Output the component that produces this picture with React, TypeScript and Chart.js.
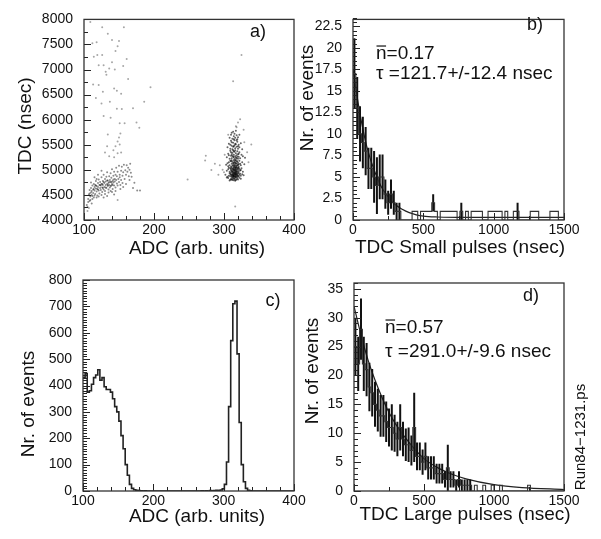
import React, { useEffect, useRef } from "react";
import { Chart, registerables } from "chart.js";

Chart.register(...registerables);
Chart.defaults.font.family = "'Liberation Sans', Arial, Helvetica, sans-serif";

const W = 601;
const H = 539;

// ---------- Panel a) scatter TDC vs ADC ----------
const scatterSparse: [number, number][] = [
  [109,7950],[126,7842],[157,7842],[134,7716],[140,7589],[150,7570],[118,7545],[112,7526],[148,7463],[145,7368],
  [119,7292],[126,7292],[114,7254],[161,7210],[140,7147],[121,7084],[128,7084],[156,7071],[136,7020],[144,7001],
  [131,6957],[132,6894],[163,6812],[113,6704],[121,6692],[143,6622],[195,6647],[147,6578],[127,6559],[153,6515],
  [117,6433],[125,6325],[137,6357],[186,6357],[147,6218],[154,6211],[170,6230],[128,6072],[138,6041],[158,5927],
  [175,5946],[151,5927],[179,5838],[152,5725],[134,5706],[150,5643],[148,5567],[133,5472],[145,5472],[151,5504],
  [142,5390],[130,5346],[148,5333],[136,5270],[143,5251],[153,5346],[248,4808],[148,4398],[105,4180],[107,4240],
  [325,7292],[313,6768],[323,6009],[320,5946],[318,5851],[339,5504],[274,5282],[273,5188],[282,4998],[287,5124],
  [294,5093],[292,4903],[316,4271],[298,5000],[300,4950],[333,5350],[335,5150],[301,5300],[329,5550],[306,5700],
  [328,5800],[317,5870]
];

const scatterLeftCluster: [number, number][] = [
  [106,4420],[107,4510],[108,4380],[108,4600],[109,4470],[110,4550],[110,4640],[111,4330],[111,4580],[112,4690],
  [112,4480],[113,4610],[113,4540],[114,4720],[114,4450],[115,4660],[115,4590],[116,4520],[116,4700],[117,4630],
  [117,4780],[118,4570],[118,4680],[119,4490],[119,4620],[120,4740],[120,4660],[121,4590],[121,4810],[122,4700],
  [122,4530],[123,4640],[123,4760],[124,4600],[124,4690],[125,4850],[125,4720],[126,4560],[126,4650],[127,4780],
  [127,4700],[128,4610],[128,4900],[129,4740],[129,4660],[130,4820],[130,4580],[131,4700],[131,4770],[132,4640],
  [132,4860],[133,4720],[133,4950],[134,4680],[134,4790],[135,4610],[135,4740],[136,4870],[136,4700],[137,4800],
  [137,4650],[138,4930],[138,4760],[139,4690],[139,4840],[140,4720],[140,5010],[141,4780],[141,4620],[142,4880],
  [142,4750],[143,4960],[143,4690],[144,4820],[144,4770],[145,4900],[145,4650],[146,5040],[146,4800],[147,4730],
  [147,4870],[148,4960],[148,4690],[149,4820],[150,5080],[150,4760],[151,4900],[151,4850],[152,4700],[153,4980],
  [153,4800],[154,5060],[155,4880],[155,4740],[156,4950],[157,5100],[158,4820],[159,4990],[160,4900],[161,5090],
  [162,4960],[163,5040],[164,4870],[165,5000],[166,5120],[167,4940],
  [104,4300],[105,4260],[106,4360],[109,4400],[112,4420],[115,4490],[118,4450],[121,4470],[125,4500],[130,4520],
  [135,4550],[140,4560],[145,4580],[152,4620],[156,4660],[160,4720],[165,4800],[170,4640],[172,4745],[176,4587],
  [180,4587],[168,4860],[110,4750],[115,4850],[120,4900],[125,4980],[118,4820],[128,4450],[138,4580],[143,4510],
  [133,4480],[126,4720],[128,4760],[131,4650],[133,4790],[134,4700],[136,4760],[138,4680],[139,4760],[141,4700],
  [142,4810],[127,4640],[123,4700],[120,4610],[117,4690],[114,4620],[111,4500],[108,4530]
];

const scatterRightCluster: [number, number][] = [
  [308,4790],[312,4800],[316,4785],[320,4810],[310,4820],[314,4830],[318,4815],[322,4840],[306,4835],[313,4845],
  [317,4800],[311,4810],[315,4820],[319,4835],[309,4805],[324,4825],[304,4845],[314,4795],[316,4840],[312,4830],
  [305,4860],[307,4880],[309,4870],[310,4900],[311,4855],[312,4920],[313,4875],[313,4940],[314,4890],[314,4865],
  [315,4910],[315,4935],[316,4870],[316,4900],[317,4925],[317,4885],[318,4860],[318,4945],[319,4905],[319,4880],
  [320,4930],[321,4870],[322,4900],[323,4920],[324,4880],[326,4910],[302,4900],[308,4930],[310,4945],[311,4890],
  [312,4865],[313,4905],[314,4925],[315,4860],[316,4945],[317,4855],[318,4900],[320,4875],[321,4940],[309,4915],
  [312,4895],[314,4880],[316,4915],[318,4920],[328,4890],
  [304,4980],[306,5010],[308,4960],[309,5030],[310,4990],[311,5045],[312,4970],[312,5015],[313,4995],[314,5040],
  [314,4960],[315,5005],[315,4985],[316,5030],[316,4955],[317,5010],[317,4975],[318,5045],[318,4995],[319,4965],
  [319,5025],[320,5000],[321,4970],[321,5040],[322,5015],[323,4985],[325,5030],[327,4960],[307,5040],[311,4975],
  [313,5025],[315,5045],[316,4990],[318,4960],[320,5035],[310,5015],[314,5000],[317,5040],[312,4955],[324,4995],
  [303,5100],[306,5070],[307,5150],[308,5090],[309,5180],[310,5060],[311,5120],[312,5160],[312,5080],[313,5130],
  [314,5190],[314,5070],[315,5110],[315,5160],[316,5090],[316,5140],[317,5060],[317,5195],[318,5120],[318,5080],
  [319,5170],[320,5100],[320,5140],[321,5065],[322,5180],[323,5120],[324,5090],[326,5150],[329,5110],[305,5130],
  [310,5170],[313,5095],[315,5075],[317,5130],[319,5085],[311,5190],[314,5140],[318,5165],[321,5110],[316,5185],
  [304,5250],[306,5320],[308,5220],[309,5380],[310,5280],[311,5230],[312,5340],[313,5260],[313,5390],[314,5300],
  [315,5215],[315,5360],[316,5270],[317,5330],[317,5240],[318,5290],[319,5370],[320,5220],[320,5310],[321,5260],
  [322,5350],[323,5230],[325,5300],[327,5270],[330,5240],[307,5290],[311,5310],[314,5250],[316,5390],[318,5230],
  [312,5280],[319,5260],[314,5370],[321,5320],[310,5350],
  [305,5450],[307,5520],[309,5420],[310,5580],[311,5480],[312,5410],[313,5540],[314,5470],[315,5590],[316,5430],
  [317,5510],[318,5460],[319,5560],[320,5420],[321,5500],[322,5450],[324,5530],[326,5410],[313,5460],[316,5520],
  [311,5550],[318,5590],[315,5490],[309,5500],[320,5470],
  [308,5640],[310,5700],[312,5620],[313,5760],[314,5670],[315,5720],[316,5640],[317,5780],[318,5690],[320,5650],
  [311,5740],[319,5610],[322,5700],[314,5610]
];

const aXTicks = [100, 200, 300, 400];
const aYTicks = [4000, 4500, 5000, 5500, 6000, 6500, 7000, 7500, 8000];

// ---------- Panel c) ADC histogram ----------
const adcBinStart = 100;
const adcBinWidth = 3;
const adcCounts = [
  430,445,375,380,405,430,440,460,420,430,395,385,385,375,350,320,300,265,210,160,100,60,25,10,5,3,2,1,
  0,1,0,0,0,0,0,0,0,0,0,0,0,0,0,0,0,0,0,0,0,0,0,0,0,0,0,0,
  1,0,1,0,2,1,2,3,2,4,8,25,110,320,570,710,720,520,260,100,35,10,3,1,
  0,0,0,0,0,0,0,0,0,0,0,0,0,0,0,0,0,0,0,0
];
const cXTicks = [100, 200, 300, 400];
const cYTicks = [0, 100, 200, 300, 400, 500, 600, 700, 800];

// ---------- Panel b) TDC small pulses ----------
const tdcBinWidth = 20;
const smallCounts = [
  17,13,10,9,8,6,6,5,4,5,5,3,2,3,2,1,1,0,0,0,
  0,1,1,0,1,1,1,1,2,1,0,1,1,1,1,1,1,0,1,0,
  1,0,1,1,1,1,0,0,1,1,1,1,1,0,1,0,0,1,1,0,
  0,0,0,1,1,1,0,0,0,0,1,1,1,0,0
];
const smallErrors = [
  4.1,3.6,3.2,3,2.8,2.4,2.4,3,3.3,2.6,2.6,1.7,1.4,1.7,1.4,1,1,0,0,0,
  0,0,0,0,0,0,0,0,1,0,0,0,0,0,0,0,0,0,1,0,
  0,0,0,0,0,0,0,0,0,0,0,0,0,0,0,0,0,0,1,0,
  0,0,0,0,0,0,0,0,0,0,0,0,0,0,0
];
const smallFitT = [0,25,50,75,100,150,200,250,300,350,400,450,500,600,800,1000,1500];
const smallFitN = [17.5,14.8,12.3,10.2,8.4,5.8,3.9,2.7,1.8,1.25,0.85,0.6,0.45,0.35,0.3,0.3,0.3];
const bXTicks = [0, 500, 1000, 1500];
const bYTicks = [0, 2.5, 5, 7.5, 10, 12.5, 15, 17.5, 20, 22.5];

// ---------- Panel d) TDC large pulses ----------
const largeCounts = [
  25,22,28,22,21,18,17,15,14,13,13,12,11,11,10,9,11,9,8,8,
  7,11,6,6,5,6,4,4,4,3,3,3,2,4,2,2,1,2,1,1,
  1,1,0,1,0,0,1,0,0,1,0,0,1,0,0,0,0,0,0,0,
  0,0,1,0,0,0,0,0,0,0,0,0,0,0,0
];
const largeErrors = [
  5,4.7,5.3,4.7,4.6,4.2,4.1,3.9,3.7,3.6,3.6,3.5,3.3,4,3.2,3,4,3,2.8,3,
  2.6,6,2.4,2.4,2.2,2.4,2,2,2,1.7,1.7,1.7,1.4,4,1.4,1.4,1,1.4,1,1,
  1,1,0,0,0,0,0,0,0,0,0,0,0,0,0,0,0,0,0,0,
  0,0,0,0,0,0,0,0,0,0,0,0,0,0,0
];
const largeFitT = [0,50,100,150,200,250,300,400,500,600,700,800,1000,1200,1500];
const largeFitN = [32,27,22.7,19.2,16.2,13.6,11.5,8.2,5.6,4.0,2.9,2.1,1.1,0.6,0.25];
const dXTicks = [0, 500, 1000, 1500];
const dYTicks = [0, 5, 10, 15, 20, 25, 30, 35];

// ---------- helpers ----------
const INK = "#111";
const YW = 75;
const XH = 25;

function histPoints(start: number, width: number, counts: number[]) {
  const pts = counts.map((c, i) => ({ x: start + i * width, y: c }));
  pts.push({ x: start + counts.length * width, y: counts[counts.length - 1] });
  return pts;
}

function errPoints(start: number, width: number, counts: number[], errs: number[]) {
  const pts: { x: number; y: number | null }[] = [];
  counts.forEach((c, i) => {
    const e = errs[i];
    if (!e) return;
    const xc = start + (i + 0.5) * width;
    pts.push({ x: xc, y: Math.max(0, c - e) });
    pts.push({ x: xc, y: c + e });
    pts.push({ x: xc, y: null });
  });
  return pts;
}

type TextItem = {
  t: string; x: number; y: number; size: number;
  align?: CanvasTextAlign; rot?: number; overlineFirst?: boolean;
};

const rootPlugin = {
  id: "rootFrame",
  afterDatasetsDraw(chart: any, _args: any, opts: any) {
    const { ctx, chartArea: a, scales } = chart;
    const sx = scales.x;
    const sy = scales.y;
    ctx.save();
    ctx.strokeStyle = "#222";
    ctx.lineWidth = 1;
    const drawTicks = (scale: any, minor: number, major: number, horizontal: boolean) => {
      const n = Math.round((scale.max - scale.min) / minor);
      for (let k = 0; k <= n; k++) {
        const v = scale.min + k * minor;
        const isMajor = Math.abs(v / major - Math.round(v / major)) < 1e-6;
        const len = isMajor ? 7 : 4;
        const p = Math.round(scale.getPixelForValue(v)) + 0.5;
        ctx.beginPath();
        if (horizontal) {
          ctx.moveTo(p, a.bottom);
          ctx.lineTo(p, a.bottom - len);
        } else {
          ctx.moveTo(a.left, p);
          ctx.lineTo(a.left + len, p);
        }
        ctx.stroke();
      }
    };
    drawTicks(sx, opts.xMinor, opts.xMajor, true);
    drawTicks(sy, opts.yMinor, opts.yMajor, false);
    ctx.lineWidth = 1.3;
    ctx.strokeStyle = "#333";
    ctx.strokeRect(a.left, a.top, a.right - a.left, a.bottom - a.top);
    ctx.fillStyle = INK;
    (opts.texts as TextItem[]).forEach((it) => {
      ctx.save();
      ctx.font = `${it.size}px 'Liberation Sans', Arial, sans-serif`;
      ctx.textAlign = it.align || "center";
      ctx.textBaseline = "middle";
      ctx.translate(it.x, it.y);
      if (it.rot) ctx.rotate(it.rot);
      ctx.fillText(it.t, 0, 0);
      if (it.overlineFirst) {
        const w = ctx.measureText(it.t.charAt(0)).width;
        ctx.strokeStyle = INK;
        ctx.lineWidth = 1.2;
        ctx.beginPath();
        ctx.moveTo(0.5, -it.size * 0.42);
        ctx.lineTo(w - 0.5, -it.size * 0.42);
        ctx.stroke();
      }
      ctx.restore();
    });
    ctx.restore();
  },
};

type PanelSpec = {
  left: number; top: number; right: number; bottom: number;
  xMin: number; xMax: number; yMin: number; yMax: number;
  xTicks: number[]; yTicks: number[];
  xMinor: number; xMajor: number; yMinor: number; yMajor: number;
  datasets: any[];
  texts: TextItem[];
};

function makeConfig(p: PanelSpec): any {
  const tickFont = { size: 14 };
  return {
    type: "line",
    data: { datasets: p.datasets },
    options: {
      animation: false,
      responsive: false,
      devicePixelRatio: 1,
      layout: {
        padding: { left: p.left - YW, top: p.top, right: W - p.right, bottom: H - p.bottom - XH },
      },
      plugins: {
        legend: { display: false },
        tooltip: { enabled: false },
        rootFrame: { xMinor: p.xMinor, xMajor: p.xMajor, yMinor: p.yMinor, yMajor: p.yMajor, texts: p.texts },
      },
      scales: {
        x: {
          type: "linear",
          min: p.xMin,
          max: p.xMax,
          grid: { display: false, drawTicks: false },
          border: { display: false },
          afterBuildTicks: (s: any) => { s.ticks = p.xTicks.map((v) => ({ value: v })); },
          afterFit: (s: any) => { s.height = XH; },
          ticks: { padding: 2, font: tickFont, color: INK, maxRotation: 0, autoSkip: false, callback: (v: any) => String(v) },
        },
        y: {
          type: "linear",
          min: p.yMin,
          max: p.yMax,
          grid: { display: false, drawTicks: false },
          border: { display: false },
          afterBuildTicks: (s: any) => { s.ticks = p.yTicks.map((v) => ({ value: v })); },
          afterFit: (s: any) => { s.width = YW; },
          ticks: { padding: 11, font: tickFont, color: INK, autoSkip: false, callback: (v: any) => String(v) },
        },
      },
    },
    plugins: [rootPlugin],
  };
}

const toXY = (arr: [number, number][]) => arr.map(([x, y]) => ({ x, y }));
const scatterStyle = (alpha: number) => ({
  showLine: false,
  pointRadius: 1,
  pointBorderWidth: 0,
  pointBackgroundColor: `rgba(0,0,0,${alpha})`,
  pointBorderColor: "rgba(0,0,0,0)",
});

const ROT = -Math.PI / 2;

const specA: PanelSpec = {
  left: 84, top: 9, right: 294, bottom: 220,
  xMin: 100, xMax: 400, yMin: 4000, yMax: 8000,
  xTicks: aXTicks, yTicks: aYTicks,
  xMinor: 20, xMajor: 100, yMinor: 250, yMajor: 500,
  datasets: [
    { data: toXY(scatterSparse), ...scatterStyle(0.35) },
    { data: toXY(scatterLeftCluster), ...scatterStyle(0.45) },
    { data: toXY(scatterRightCluster), ...scatterStyle(0.6) },
  ],
  texts: [
    { t: "a)", x: 258, y: 32, size: 18 },
    { t: "ADC (arb. units)", x: 197, y: 249, size: 19 },
    { t: "TDC (nsec)", x: 26, y: 126, size: 19, rot: ROT },
  ],
};

const specC: PanelSpec = {
  left: 83, top: 280, right: 294, bottom: 491,
  xMin: 100, xMax: 400, yMin: 0, yMax: 800,
  xTicks: cXTicks, yTicks: cYTicks,
  xMinor: 20, xMajor: 100, yMinor: 10, yMajor: 100,
  datasets: [
    {
      data: histPoints(adcBinStart, adcBinWidth, adcCounts),
      stepped: "before", borderColor: "#222", borderWidth: 1.6, pointRadius: 0, fill: false,
    },
  ],
  texts: [
    { t: "c)", x: 273, y: 301, size: 18 },
    { t: "ADC (arb. units)", x: 197, y: 517, size: 19 },
    { t: "Nr. of events", x: 29, y: 404, size: 19, rot: ROT },
  ],
};

function tdcDatasets(counts: number[], errs: number[], fitT: number[], fitN: number[]) {
  return [
    {
      data: histPoints(0, tdcBinWidth, counts),
      stepped: "before", borderColor: "#333", borderWidth: 1.1, pointRadius: 0, fill: false,
    },
    {
      data: errPoints(0, tdcBinWidth, counts, errs),
      borderColor: "#111", borderWidth: 2, pointRadius: 0, fill: false, spanGaps: false,
    },
    {
      data: fitT.map((t, i) => ({ x: t, y: fitN[i] })),
      borderColor: "#222", borderWidth: 1.2, pointRadius: 0, fill: false, cubicInterpolationMode: "monotone",
    },
  ];
}

const specB: PanelSpec = {
  left: 353, top: 10, right: 564, bottom: 220,
  xMin: 0, xMax: 1500, yMin: 0, yMax: 23.3,
  xTicks: bXTicks, yTicks: bYTicks,
  xMinor: 250, xMajor: 500, yMinor: 0.5, yMajor: 2.5,
  datasets: tdcDatasets(smallCounts, smallErrors, smallFitT, smallFitN),
  texts: [
    { t: "b)", x: 535, y: 25, size: 18 },
    { t: "n=0.17", x: 376, y: 54, size: 19, align: "left", overlineFirst: true },
    { t: "\u03c4 =121.7+/-12.4 nsec", x: 376, y: 74, size: 19, align: "left" },
    { t: "TDC Small pulses (nsec)", x: 460, y: 248, size: 19 },
    { t: "Nr. of events", x: 308, y: 98, size: 19, rot: ROT },
  ],
};

const specD: PanelSpec = {
  left: 354, top: 283, right: 564, bottom: 491,
  xMin: 0, xMax: 1500, yMin: 0, yMax: 36,
  xTicks: dXTicks, yTicks: dYTicks,
  xMinor: 250, xMajor: 500, yMinor: 1, yMajor: 5,
  datasets: tdcDatasets(largeCounts, largeErrors, largeFitT, largeFitN),
  texts: [
    { t: "d)", x: 531, y: 296, size: 18 },
    { t: "n=0.57", x: 385, y: 328, size: 19, align: "left", overlineFirst: true },
    { t: "\u03c4 =291.0+/-9.6 nsec", x: 385, y: 352, size: 19, align: "left" },
    { t: "TDC Large pulses (nsec)", x: 465, y: 515, size: 19 },
    { t: "Nr. of events", x: 313, y: 371, size: 19, rot: ROT },
    { t: "Run84\u22121231.ps", x: 581, y: 437, size: 15, rot: ROT },
  ],
};

function Panel({ spec }: { spec: PanelSpec }) {
  const ref = useRef<HTMLCanvasElement>(null);
  useEffect(() => {
    const chart = new Chart(ref.current as HTMLCanvasElement, makeConfig(spec));
    return () => chart.destroy();
  }, [spec]);
  return (
    <canvas
      ref={ref}
      width={W}
      height={H}
      style={{ position: "absolute", left: 0, top: 0, width: W, height: H }}
    />
  );
}

export default function App() {
  return (
    <div style={{ position: "absolute", left: 0, top: 0, width: W, height: H, background: "#fff", overflow: "hidden" }}>
      <Panel spec={specA} />
      <Panel spec={specB} />
      <Panel spec={specC} />
      <Panel spec={specD} />
    </div>
  );
}
